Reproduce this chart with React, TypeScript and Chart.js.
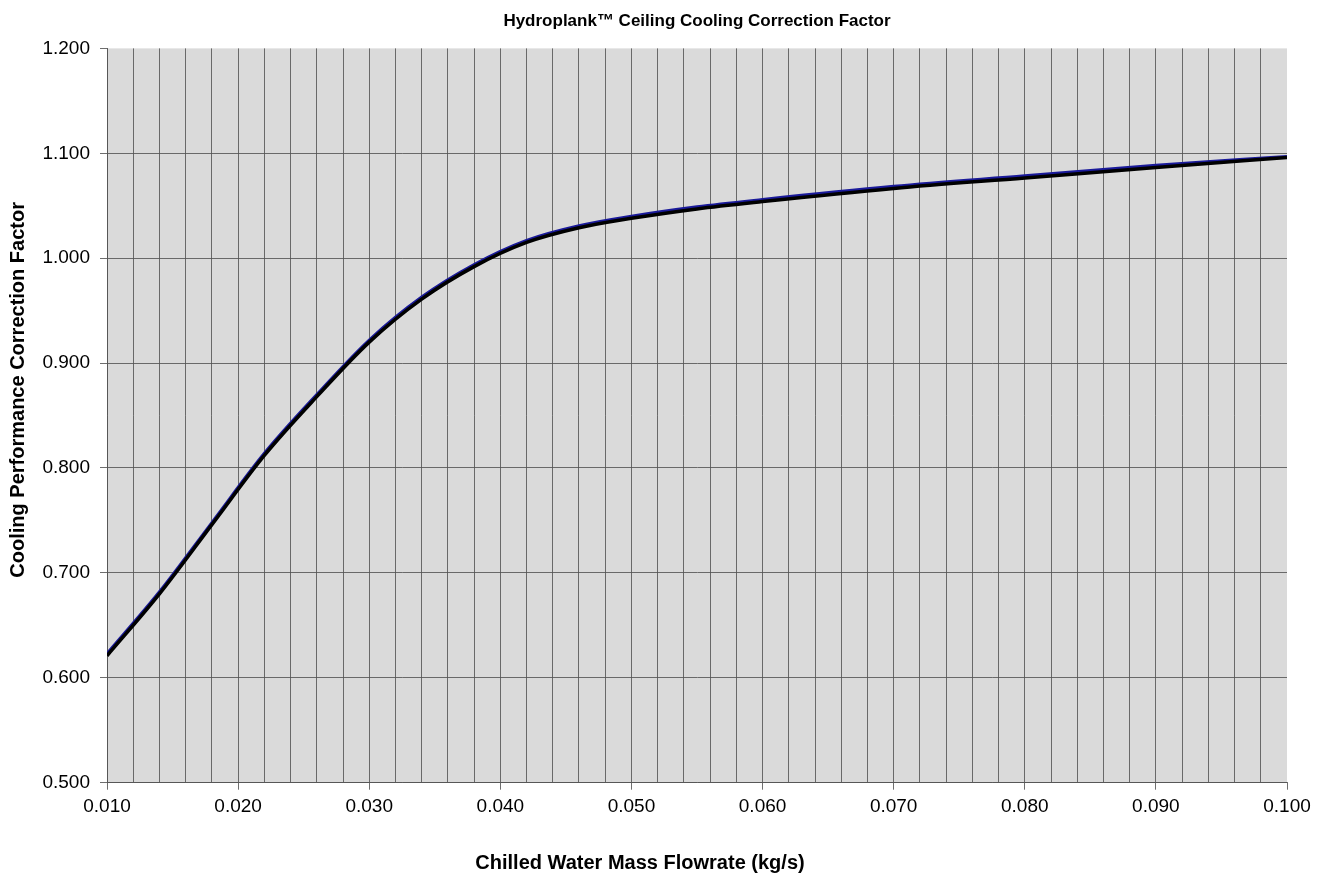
import React, { useEffect, useRef } from "react";
import { Chart, registerables } from "chart.js";

Chart.register(...registerables);

const chartTitle = "Hydroplank\u2122 Ceiling Cooling Correction Factor";
const xAxisTitle = "Chilled Water Mass Flowrate (kg/s)";
const yAxisTitle = "Cooling Performance Correction Factor";

const flowRates = [
  0.010, 0.014, 0.018, 0.022, 0.026, 0.030, 0.034, 0.038, 0.042, 0.046,
  0.050, 0.055, 0.060, 0.070, 0.080, 0.090, 0.100,
];

const correctionBlack = [
  0.621, 0.680, 0.746, 0.812, 0.868, 0.920, 0.961, 0.992, 1.015, 1.029,
  1.038, 1.047, 1.054, 1.0665, 1.0765, 1.0865, 1.096,
];

const correctionBlue = [
  0.623, 0.682, 0.748, 0.814, 0.870, 0.922, 0.963, 0.994, 1.017, 1.031,
  1.040, 1.049, 1.056, 1.0685, 1.0785, 1.0885, 1.097,
];

const xMin = 0.01;
const xMax = 0.1;
const xMinorStepsThousandths = 2; // 0.002 spacing
const yMin = 0.5;
const yMax = 1.2;
const yStep = 0.1;

const FONT = "'Liberation Sans', Arial, Helvetica, sans-serif";
const GRID = "rgba(85,85,85,0.85)";

const plotBg = {
  id: "plotBg",
  beforeDraw(chart: any) {
    const { ctx, chartArea } = chart;
    ctx.save();
    ctx.fillStyle = "#dadada";
    ctx.fillRect(chartArea.left, chartArea.top, chartArea.right - chartArea.left, chartArea.bottom - chartArea.top);
    ctx.restore();
  },
};

const axisTitles = {
  id: "axisTitles",
  afterDraw(chart: any) {
    const { ctx, chartArea } = chart;
    ctx.save();
    ctx.fillStyle = "#000";
    ctx.font = `bold 20px ${FONT}`;
    ctx.textAlign = "center";
    ctx.textBaseline = "middle";
    const xc = chartArea.left + (chartArea.right - chartArea.left) * 0.4517;
    ctx.fillText(xAxisTitle, xc, chartArea.bottom + 81);
    const yc = chartArea.top + (chartArea.bottom - chartArea.top) * 0.465;
    ctx.translate(18, yc);
    ctx.rotate(-Math.PI / 2);
    ctx.fillText(yAxisTitle, 0, 0);
    ctx.restore();
  },
};

export default function App() {
  const ref = useRef<HTMLCanvasElement | null>(null);

  useEffect(() => {
    if (!ref.current) return;
    const chart = new Chart(ref.current, {
      type: "line",
      data: {
        datasets: [
          {
            label: "black",
            data: flowRates.map((x, i) => ({ x, y: correctionBlack[i] })),
            borderColor: "#000000",
            borderWidth: 3.5,
            pointRadius: 0,
            cubicInterpolationMode: "monotone",
            fill: false,
          },
          {
            label: "blue",
            data: flowRates.map((x, i) => ({ x, y: correctionBlue[i] })),
            borderColor: "#1a1a9a",
            borderWidth: 3,
            pointRadius: 0,
            cubicInterpolationMode: "monotone",
            fill: false,
          },
        ],
      },
      plugins: [plotBg, axisTitles],
      options: {
        animation: false,
        responsive: true,
        maintainAspectRatio: false,
        layout: { padding: { left: 0, right: 43, top: 0, bottom: 0 } },
        plugins: {
          legend: { display: false },
          tooltip: { enabled: false },
          title: {
            display: true,
            text: chartTitle,
            fullSize: false,
            color: "#000",
            font: { family: FONT, size: 17, weight: "bold" },
            padding: { top: 11, bottom: 17 },
          },
        },
        scales: {
          x: {
            type: "linear",
            min: xMin,
            max: xMax,
            afterBuildTicks(scale: any) {
              const ticks = [];
              for (let t = 10; t <= 100; t += xMinorStepsThousandths) ticks.push({ value: t / 1000 });
              scale.ticks = ticks;
            },
            afterFit(scale: any) {
              scale.height = 91.3;
            },
            ticks: {
              autoSkip: false,
              maxRotation: 0,
              padding: 6,
              color: "#000",
              font: { family: FONT, size: 19 },
              callback: (v: any) => {
                const k = Math.round(Number(v) * 1000);
                return k % 10 === 0 ? (k / 1000).toFixed(3) : "";
              },
            },
            grid: {
              color: (c: any) => {
                const k = Math.round(c.tick.value * 1000);
                return k === 100 ? "rgba(0,0,0,0)" : GRID;
              },
              tickColor: (c: any) => {
                const k = Math.round(c.tick.value * 1000);
                return k % 10 === 0 ? GRID : "rgba(0,0,0,0)";
              },
              tickLength: 7,
              lineWidth: 1,
            },
            border: { color: GRID, width: 1 },
            title: { display: false },
          },
          y: {
            type: "linear",
            min: yMin,
            max: yMax,
            afterFit(scale: any) {
              scale.width = 107;
            },
            ticks: {
              stepSize: yStep,
              padding: 10,
              color: "#000",
              font: { family: FONT, size: 19 },
              callback: (v: any) => Number(v).toFixed(3),
            },
            grid: {
              color: (c: any) => (Math.abs(c.tick.value - yMax) < 1e-6 ? "rgba(0,0,0,0)" : GRID),
              tickColor: GRID,
              tickLength: 7,
              lineWidth: 1,
            },
            border: { color: GRID, width: 1 },
            title: { display: false },
          },
        },
      },
    } as any);
    return () => chart.destroy();
  }, []);

  return (
    <div style={{ position: "fixed", left: 0, top: 0, width: 1330, height: 874, background: "#fff" }}>
      <canvas ref={ref} />
    </div>
  );
}
